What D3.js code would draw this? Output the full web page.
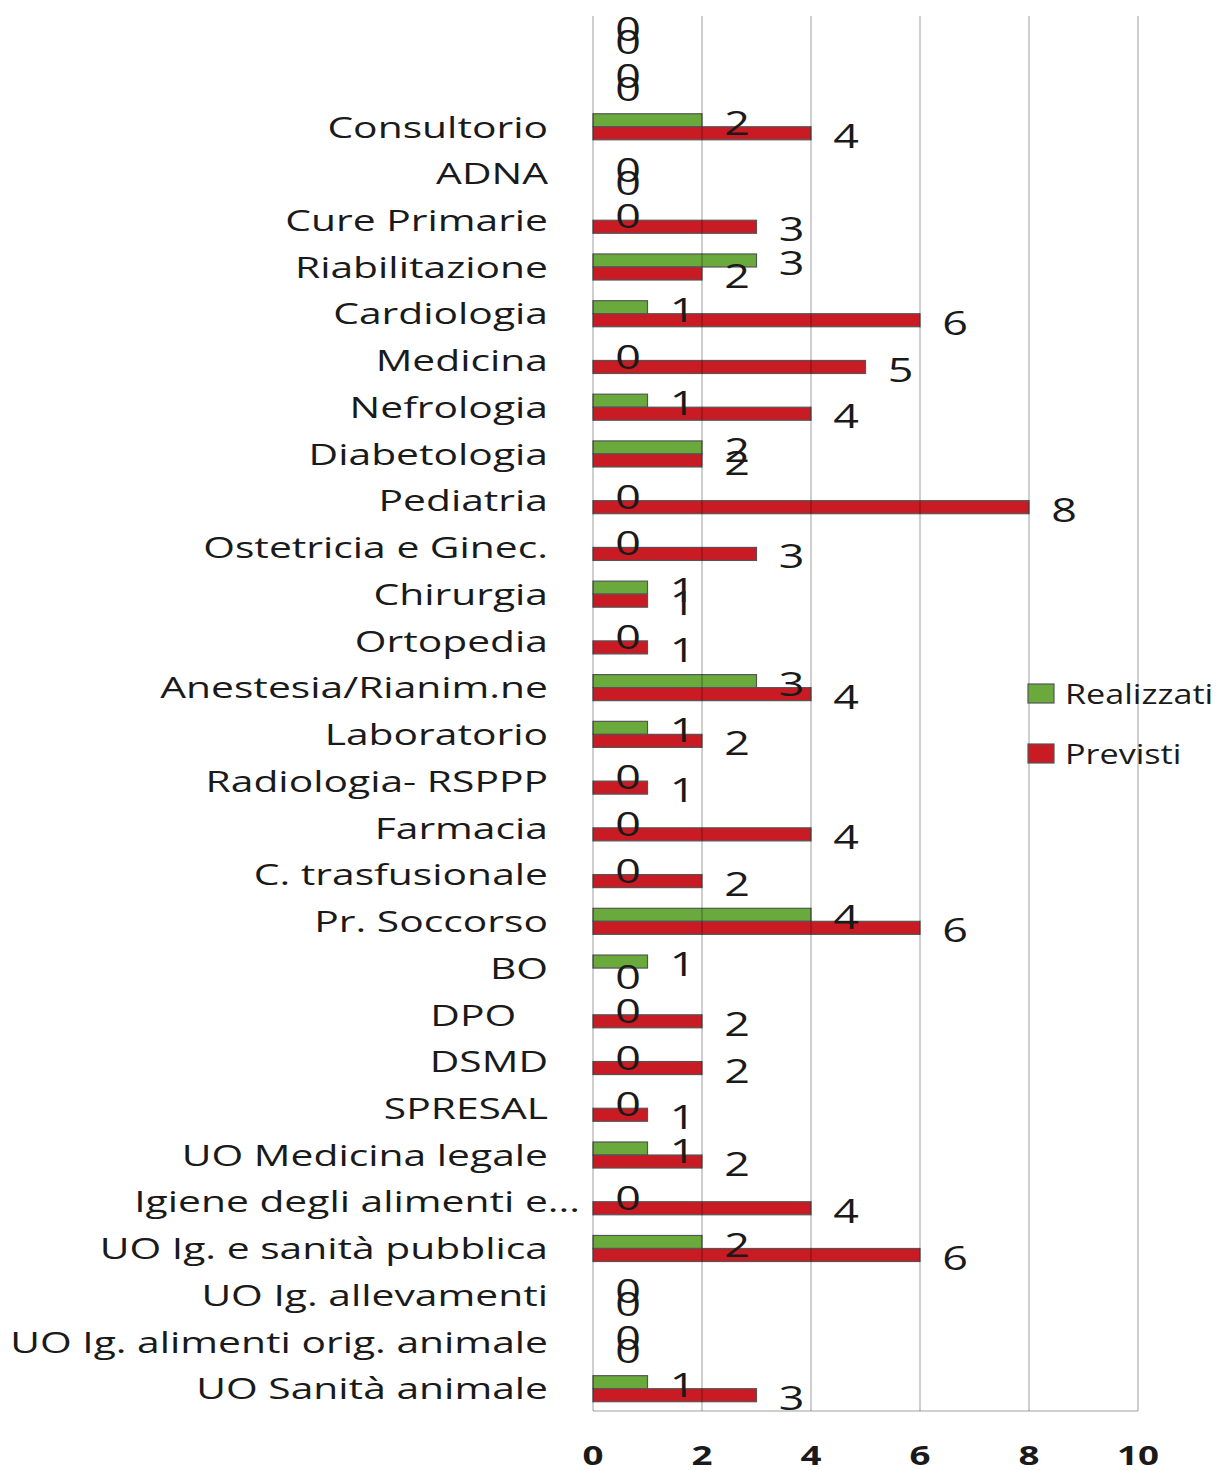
<!DOCTYPE html>
<html>
<head>
<meta charset="utf-8">
<script src="https://cdn.jsdelivr.net/npm/d3@7"></script>
<style>
  body { margin: 0; background: #fff; }
  text { font-family: "Open Sans", sans-serif; fill: #1a1a1a; white-space: pre; }
</style>
</head>
<body>
<div id="chart"></div>
<script>
// categories top to bottom (two unnamed rows at the top)
const categories = [
    "", " ",
    "Consultorio", "ADNA", "Cure Primarie", "Riabilitazione", "Cardiologia",
    "Medicina", "Nefrologia", "Diabetologia", "Pediatria", "Ostetricia e Ginec.",
    "Chirurgia", "Ortopedia", "Anestesia/Rianim.ne", "Laboratorio", "Radiologia- RSPPP",
    "Farmacia", "C. trasfusionale", "Pr. Soccorso", "BO", "DPO   ", "DSMD", "SPRESAL",
    "UO Medicina legale", "Igiene degli alimenti e...", "UO Ig. e sanità pubblica",
    "UO Ig. allevamenti", "UO Ig. alimenti orig. animale", "UO Sanità animale"
];
const realizzati = [0, 0, 2, 0, 0, 3, 1, 0, 1, 2, 0, 0, 1, 0, 3, 1, 0, 0, 0, 4, 1, 0, 0, 0, 1, 0, 2, 0, 0, 1];
const previsti   = [0, 0, 4, 0, 3, 2, 6, 5, 4, 2, 8, 3, 1, 1, 4, 2, 1, 4, 2, 6, 0, 2, 2, 1, 2, 4, 6, 0, 0, 3];
const seriesNames = ["Realizzati", "Previsti"];
const seriesColors = ["#6aaa3c", "#c81b24"];
const xTicks = [0, 2, 4, 6, 8, 10];

const width = 1227, height = 1470;

const svg = d3.select("#chart").append("svg")
    .attr("width", width)
    .attr("height", height);

svg.append("rect").attr("width", width).attr("height", height).attr("fill", "#fff");

// the picture is stretched sideways: work out the factor from the longest label
const probe = svg.append("text").style("font-size", "30px").text("UO Ig. alimenti orig. animale");
const sx = 538 / probe.node().getComputedTextLength();
probe.remove();

const x = d3.scaleLinear().domain([0, 10]).range([593, 1138]);
const y = d3.scaleBand().domain(categories).range([10, 1412]).paddingInner(0.443).paddingOuter(0.22);
const ySub = d3.scaleBand().domain(seriesNames).range([0, y.bandwidth()]);

function stretched(sel, tx, ty) {
    return sel.attr("transform", (d, i) => `translate(${tx(d, i)},${ty(d, i)}) scale(${sx},1)`);
}

const plotTop = 16, plotBottom = 1411;

// bars
const rows = categories.map((c, i) => ({ cat: c, vals: [realizzati[i], previsti[i]] }));
const groups = svg.selectAll(".row").data(rows).enter().append("g")
    .attr("transform", d => `translate(0,${y(d.cat)})`);

groups.each(function(d) {
    const g = d3.select(this);
    d.vals.forEach((v, k) => {
        if (v > 0) {
            g.append("rect")
                .attr("x", x(0)).attr("y", ySub(seriesNames[k]))
                .attr("width", x(v) - x(0)).attr("height", ySub.bandwidth())
                .attr("fill", seriesColors[k])
                .attr("stroke", "#555").attr("stroke-width", 1.2);
        }
    });
});

// gridlines (drawn over the bars, see-through)
svg.selectAll(".grid").data(xTicks).enter().append("line")
    .attr("x1", d => x(d)).attr("x2", d => x(d))
    .attr("y1", plotTop).attr("y2", plotBottom)
    .attr("stroke", "rgba(0,0,0,0.25)").attr("stroke-width", 1.5);
svg.append("line").attr("x1", x(0)).attr("x2", x(10)).attr("y1", plotBottom).attr("y2", plotBottom)
    .attr("stroke", "rgba(0,0,0,0.25)").attr("stroke-width", 1.5);

// value labels
groups.each(function(d) {
    const g = d3.select(this);
    d.vals.forEach((v, k) => {
        const yy = ySub(seriesNames[k]) + ySub.bandwidth() / 2 + 2;
        g.append("text")
            .attr("transform", `translate(${x(v) + 35},${yy}) scale(${sx},1)`)
            .attr("text-anchor", "middle")
            .attr("dominant-baseline", "central")
            .style("font-size", "33px")
            .text(v);
    });
});

// category labels
stretched(svg.selectAll(".cat").data(categories).enter().append("text"),
    d => (d.endsWith("...") ? 580 : 548),
    d => y(d) + y.bandwidth() / 2 - 1)
    .attr("text-anchor", "end")
    .attr("dominant-baseline", "central")
    .style("font-size", "30px")
    .text(d => d);

// x tick labels
stretched(svg.selectAll(".tick").data(xTicks).enter().append("text"),
    d => x(d), () => 1455)
    .attr("text-anchor", "middle")
    .attr("dominant-baseline", "central")
    .style("font-size", "27px")
    .style("font-weight", "bold")
    .text(d => d);

// legend
const legend = svg.selectAll(".legend").data(seriesNames).enter().append("g")
    .attr("transform", (d, i) => `translate(1028,${684 + i * 60})`);
legend.append("rect")
    .attr("width", 26).attr("height", 19)
    .attr("fill", (d, i) => seriesColors[i])
    .attr("stroke", "#555").attr("stroke-width", 1.2);
legend.append("text")
    .attr("transform", `translate(37,9) scale(${sx * 0.93},1)`)
    .attr("dominant-baseline", "central")
    .style("font-size", "27px")
    .text(d => d);
</script>
</body>
</html>
